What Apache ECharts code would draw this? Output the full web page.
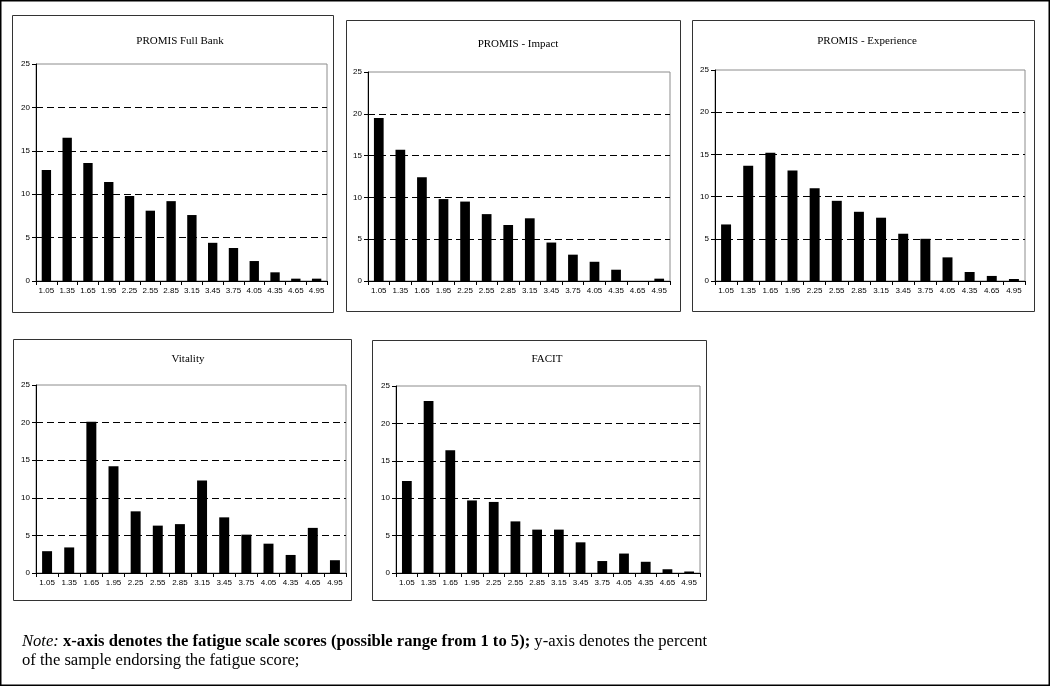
<!DOCTYPE html>
<html>
<head>
<meta charset="utf-8">
<script src="https://cdn.jsdelivr.net/npm/echarts@6/dist/echarts.min.js"></script>
<style>
  html, body { margin: 0; padding: 0; background: #fff; }
  #chart { width: 1050px; height: 686px; }
</style>
</head>
<body>
<div id="chart"></div>
<script>
// ---- data ----
const categories = ['1.05','1.35','1.65','1.95','2.25','2.55','2.85','3.15','3.45','3.75','4.05','4.35','4.65','4.95'];
const panelTitles = ['PROMIS Full Bank', 'PROMIS - Impact', 'PROMIS - Experience', 'Vitality', 'FACIT'];
const promisFullBank   = [12.8, 16.5, 13.6, 11.4, 9.8, 8.1, 9.2, 7.6, 4.4, 3.8, 2.3, 1.0, 0.27, 0.27];
const promisImpact     = [19.5, 15.7, 12.4, 9.8, 9.5, 8.0, 6.7, 7.5, 4.6, 3.15, 2.3, 1.35, 0, 0.28];
const promisExperience = [6.7, 13.65, 15.2, 13.1, 11.0, 9.5, 8.2, 7.5, 5.6, 5.0, 2.8, 1.07, 0.6, 0.24];
const vitality         = [2.9, 3.4, 20.1, 14.2, 8.2, 6.3, 6.5, 12.3, 7.4, 5.1, 3.9, 2.4, 6.0, 1.7];
const facit            = [12.3, 23.0, 16.4, 9.7, 9.5, 6.9, 5.8, 5.8, 4.1, 1.6, 2.6, 1.5, 0.5, 0.2];
const yTicks = [0, 5, 10, 15, 20, 25];
const noteItalic = 'Note:';
const noteBold = 'x-axis denotes the fatigue scale scores (possible range from 1 to 5);';
const noteRest1 = 'y-axis denotes the percent';
const noteRest2 = 'of the sample endorsing the fatigue score;';

const seriesData = [promisFullBank, promisImpact, promisExperience, vitality, facit];

// ---- layout ----
const grids = [
  { left: 36,  top: 64,  width: 291, height: 217 },
  { left: 368, top: 72,  width: 302, height: 209 },
  { left: 715, top: 70,  width: 310, height: 211 },
  { left: 36,  top: 385, width: 310, height: 188 },
  { left: 396, top: 386, width: 304, height: 187 }
];
const boxes = [
  { x: 12,  y: 15,  w: 321, h: 297 },
  { x: 346, y: 20,  w: 334, h: 291 },
  { x: 692, y: 20,  w: 342, h: 291 },
  { x: 13,  y: 339, w: 338, h: 261 },
  { x: 372, y: 340, w: 334, h: 260 }
];
const titlePos = [
  { x: 175, y: 31 }, { x: 513, y: 34 }, { x: 862, y: 31 }, { x: 183, y: 349 }, { x: 542, y: 349 }
];

const noteFont = { fontFamily: 'Liberation Serif', fontSize: 16.6, color: '#000', lineHeight: 19 };

const option = {
  animation: false,
  backgroundColor: '#fff',
  title: panelTitles.map((t, i) => ({
    text: t,
    left: titlePos[i].x,
    top: titlePos[i].y,
    textAlign: 'center',
    textStyle: { fontFamily: 'Liberation Serif', fontSize: 11, fontWeight: 'normal', color: '#000' }
  })).concat([{
    text: '{i|' + noteItalic + '} {b|' + noteBold + '} {r|' + noteRest1 + '}\n{r|' + noteRest2 + '}',
    left: 17,
    top: 627,
    textStyle: Object.assign({}, noteFont, {
      fontWeight: 'normal',
      rich: {
        i: Object.assign({}, noteFont, { fontStyle: 'italic', fontWeight: 'normal' }),
        b: Object.assign({}, noteFont, { fontWeight: 'bold' }),
        r: Object.assign({}, noteFont, { fontWeight: 'normal' })
      }
    })
  }]),
  graphic: [
    { type: 'rect', shape: { x: 0.75, y: 0.75, width: 1048.5, height: 684.5 }, style: { fill: 'none', stroke: '#000', lineWidth: 1.5 }, silent: true }
  ].concat(boxes.map(b => ({
    type: 'rect', shape: { x: b.x + 0.5, y: b.y + 0.5, width: b.w, height: b.h },
    style: { fill: 'none', stroke: '#333', lineWidth: 1 }, silent: true
  }))),
  grid: grids.map(g => Object.assign({ show: true, borderColor: '#8c8c8c', borderWidth: 1, backgroundColor: 'transparent' }, g)),
  xAxis: grids.map((g, i) => ({
    type: 'category',
    gridIndex: i,
    data: categories,
    boundaryGap: true,
    axisLine: { lineStyle: { color: '#000', width: 1 } },
    axisTick: { show: true, length: 4, lineStyle: { color: '#000' } },
    axisLabel: { interval: 0, fontFamily: 'Liberation Sans', fontSize: 8, color: '#000', margin: 6 },
    splitLine: { show: false }
  })),
  yAxis: grids.map((g, i) => ({
    type: 'value',
    gridIndex: i,
    min: yTicks[0],
    max: yTicks[yTicks.length - 1],
    interval: 5,
    axisLine: { show: true, lineStyle: { color: '#000', width: 1 } },
    axisTick: { show: true, length: 4, lineStyle: { color: '#000' } },
    axisLabel: { fontFamily: 'Liberation Sans', fontSize: 8, color: '#000', margin: 6 },
    splitLine: { show: true, lineStyle: { color: ['transparent', '#000', '#000', '#000', '#000', 'transparent'], type: [7, 4], width: 1 } }
  })),
  series: seriesData.map((d, i) => ({
    type: 'bar',
    xAxisIndex: i,
    yAxisIndex: i,
    data: d,
    barWidth: '45%',
    itemStyle: { color: '#000' },
    silent: true
  }))
};

const chart = echarts.init(document.getElementById('chart'), null, { renderer: 'canvas' });
chart.setOption(option);
</script>
</body>
</html>
